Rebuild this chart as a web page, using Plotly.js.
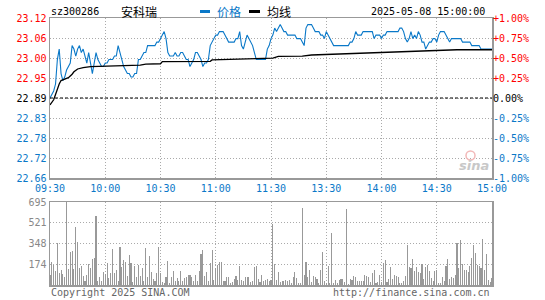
<!DOCTYPE html>
<html>
<head>
<meta charset="utf-8">
<script src="https://cdn.plot.ly/plotly-3.0.1.min.js"></script>
<style>html,body{margin:0;padding:0;background:#fff;}#chart{width:545px;height:300px;}</style>
</head>
<body>
<div id="chart"></div>
<script>
// ---------- data ----------
const stockCode = "sz300286";
const stockName = "安科瑞";
const dateTime = "2025-05-08 15:00:00";
const prevClose = 22.89;
const timeTickIdx = [0, 30, 60, 90, 120, 150, 180, 210, 240];
const timeTickLabels = ["09:30", "10:00", "10:30", "11:00", "11:30", "13:30", "14:00", "14:30", "15:00"];
const pctSteps = [-1, -0.75, -0.5, -0.25, 0, 0.25, 0.5, 0.75, 1];

const price = [
22.89,22.90,22.91,22.93,23.00,23.03,22.96,22.94,22.95,22.97,
22.98,22.99,23.04,23.03,23.01,23.03,23.04,23.02,23.03,23.01,
22.99,23.02,22.99,22.96,22.99,23.02,23.00,22.99,22.98,22.98,
22.99,22.99,23.00,23.00,23.00,23.01,23.01,23.04,23.02,23.00,
22.98,22.97,22.96,22.96,22.95,22.95,22.96,22.96,23.00,23.00,
23.01,23.02,23.02,23.04,23.04,23.04,23.04,23.04,23.05,23.05,
23.06,23.07,23.08,23.06,23.02,23.01,23.01,23.01,23.02,23.01,
23.01,23.02,23.02,23.01,23.00,23.00,22.98,22.99,23.00,23.02,
23.02,23.01,23.00,22.98,22.99,22.99,23.00,23.04,23.05,23.06,
23.07,23.07,23.08,23.08,23.08,23.07,23.06,23.05,23.05,23.05,
23.05,23.06,23.06,23.08,23.04,23.03,23.05,23.07,23.06,23.05,
23.04,23.02,23.00,23.00,23.00,23.00,23.00,23.00,23.03,23.04,
23.06,23.07,23.09,23.08,23.09,23.10,23.09,23.08,23.08,23.07,
23.07,23.07,23.07,23.07,23.06,23.06,23.06,23.05,23.04,23.09,
23.10,23.10,23.10,23.09,23.08,23.08,23.08,23.07,23.07,23.06,
23.08,23.07,23.06,23.05,23.04,23.04,23.04,23.04,23.04,23.04,
23.04,23.04,23.04,23.05,23.05,23.06,23.08,23.07,23.07,23.07,
23.08,23.08,23.08,23.08,23.08,23.08,23.06,23.07,23.07,23.07,
23.06,23.07,23.07,23.08,23.08,23.08,23.08,23.08,23.08,23.08,
23.09,23.09,23.08,23.06,23.05,23.06,23.08,23.06,23.07,23.06,
23.08,23.07,23.05,23.05,23.03,23.04,23.05,23.05,23.06,23.06,
23.05,23.07,23.08,23.08,23.08,23.07,23.06,23.05,23.06,23.06,
23.06,23.06,23.06,23.06,23.05,23.05,23.05,23.05,23.05,23.04,
23.04,23.04,23.04,23.04,23.03,23.03,23.03,23.03,23.03,23.03,
23.03
];

const avgIdx = [0, 2, 3, 4, 5, 6, 8, 10, 12, 13, 15, 18, 22, 30, 40, 46, 47, 49, 52, 60, 61, 87, 88, 102, 121, 124, 137, 142, 152, 160, 175, 188, 201, 221, 240];
const avgPrice = [22.870, 22.885, 22.900, 22.918, 22.930, 22.940, 22.944, 22.948, 22.958, 22.965, 22.973, 22.977, 22.980, 22.981, 22.983, 22.984, 22.982, 22.984, 22.987, 22.988, 22.994, 22.995, 22.999, 23.001, 23.004, 23.009, 23.010, 23.013, 23.015, 23.016, 23.020, 23.023, 23.026, 23.028, 23.028];

const volume = [
87,193,170,120,352,100,128,92,67,695,
134,276,287,134,486,360,142,159,73,36,
87,176,142,218,226,578,36,67,33,106,
95,184,59,100,301,100,126,36,318,151,
209,190,75,251,184,25,159,67,170,75,
142,33,310,67,243,109,50,31,98,315,
100,22,17,67,201,17,67,120,31,56,
31,117,31,59,70,81,84,70,31,81,
31,120,260,296,73,109,31,184,296,39,
142,170,190,193,36,36,67,67,17,25,
50,75,45,159,39,31,67,67,67,25,
36,148,156,53,28,84,36,42,50,31,
45,511,176,45,109,25,36,36,45,31,
42,17,64,109,59,17,17,645,81,193,
67,126,25,78,64,53,17,126,276,31,
20,156,17,435,17,45,17,39,47,53,
25,636,8,50,42,78,70,31,36,36,
36,81,75,67,25,98,126,17,25,81,
25,181,209,25,50,151,50,81,75,67,
17,17,31,73,335,151,142,218,120,151,
109,100,176,50,151,165,120,59,36,114,
126,20,17,67,36,156,218,50,67,59,
81,352,142,377,176,126,126,109,162,226,
335,268,170,156,142,385,126,260,40,25,
60
];

// ---------- derived ----------
const minutes = price.map((_, i) => i);
const yTickVals = pctSteps.map(p => prevClose * (1 + p / 100));
const yRange = [prevClose * 0.99, prevClose * 1.01];
const BLUE = "#0a78c8", RED = "#ff0000", GRAY = "#999999";
function colorFor(p) { return p > 0 ? RED : (p < 0 ? BLUE : "#000000"); }
const leftText = pctSteps.map((p, k) => '<span style="color:' + colorFor(p) + '">' + yTickVals[k].toFixed(2) + '</span>');
const rightText = pctSteps.map(p => '<span style="color:' + colorFor(p) + '">' + (p > 0 ? "+" : "") + p.toFixed(2) + '%</span>');
const volMax = Math.max(...volume);
const volTicks = [1, 2, 3, 4].map(k => Math.round(volMax * k / 4));

// ---------- geometry helpers (page pixels -> paper) ----------
const W = 545, H = 300, L = 50, R = 53, T = 18, B = 15;
const PW = W - L - R, PH = H - T - B;
const px = x => (x - L) / PW;
const py = y => (H - B - y) / PH;

const MONO = "DejaVu Sans Mono, Liberation Mono, monospace";
const CJK = "Noto Sans CJK SC, sans-serif";

const traces = [
  { x: minutes, y: price, type: "scatter", mode: "lines", xaxis: "x", yaxis: "y",
    line: { color: BLUE, width: 1.1 }, hoverinfo: "skip" },
  { x: avgIdx, y: avgPrice, type: "scatter", mode: "lines", xaxis: "x", yaxis: "y",
    line: { color: "#000000", width: 1.3 }, hoverinfo: "skip" },
  { x: minutes, y: yTickVals.map(() => null).concat([]), type: "scatter", mode: "lines", xaxis: "x", yaxis: "y3", hoverinfo: "skip", showlegend: false },
  { x: minutes, y: volume, type: "bar", xaxis: "x2", yaxis: "y2",
    marker: { color: GRAY, line: { width: 0 } }, width: 0.6, hoverinfo: "skip" }
];

const gridCommon = { showgrid: true, gridcolor: "#aaaaaa", gridwidth: 1, griddash: "1px,2px", zeroline: false,
  showline: true, mirror: true, linecolor: "#999999", linewidth: 1.5, ticks: "" };

const layout = {
  width: W, height: H, margin: { l: L, r: R, t: T, b: B }, showlegend: false,
  paper_bgcolor: "#ffffff", plot_bgcolor: "#ffffff", bargap: 0,
  xaxis: Object.assign({}, gridCommon, { domain: [0, 1], anchor: "y", range: [0, 240],
    tickmode: "array", tickvals: timeTickIdx, ticktext: timeTickLabels,
    tickfont: { family: MONO, size: 10, color: BLUE } }),
  xaxis2: Object.assign({}, gridCommon, { domain: [0, 1], anchor: "y2", range: [0, 240],
    tickmode: "array", tickvals: timeTickIdx, showticklabels: false }),
  yaxis: Object.assign({}, gridCommon, { domain: [py(178), 1], anchor: "x", range: yRange,
    tickmode: "array", tickvals: yTickVals, ticktext: leftText,
    tickfont: { family: MONO, size: 10, color: "#000" } }),
  yaxis3: { overlaying: "y", side: "right", anchor: "x", range: yRange, showgrid: false, zeroline: false,
    showline: false, tickmode: "array", tickvals: yTickVals, ticktext: rightText, ticks: "",
    tickfont: { family: MONO, size: 10, color: "#000" } },
  yaxis2: Object.assign({}, gridCommon, { domain: [0, py(202)], anchor: "x2", range: [0, volMax],
    tickmode: "array", tickvals: volTicks, ticktext: volTicks.map(String),
    tickfont: { family: MONO, size: 10, color: "#888888" } }),
  shapes: [
    { type: "line", xref: "x", yref: "y", x0: 0, x1: 240, y0: prevClose, y1: prevClose,
      line: { color: "#000000", width: 1, dash: "3px,2px" } },
    { type: "line", xref: "paper", yref: "paper", x0: px(200), x1: px(210), y0: py(11.5), y1: py(11.5),
      line: { color: BLUE, width: 3 } },
    { type: "line", xref: "paper", yref: "paper", x0: px(249), x1: px(260), y0: py(11.5), y1: py(11.5),
      line: { color: "#000000", width: 3 } },
    { type: "circle", xref: "paper", yref: "paper", x0: px(466), x1: px(475), y0: py(160), y1: py(151),
      line: { color: "#f2b8b8", width: 1.5 } }
  ],
  annotations: [
    { text: stockCode, xref: "paper", yref: "paper", x: px(49), y: py(11.5), xanchor: "left", yanchor: "middle",
      showarrow: false, font: { family: MONO, size: 10, color: "#000" } },
    { text: stockName, xref: "paper", yref: "paper", x: px(119), y: py(11.5), xanchor: "left", yanchor: "middle",
      showarrow: false, font: { family: CJK, size: 12, color: "#000" } },
    { text: "价格", xref: "paper", yref: "paper", x: px(215), y: py(11.5), xanchor: "left", yanchor: "middle",
      showarrow: false, font: { family: CJK, size: 12, color: BLUE } },
    { text: "均线", xref: "paper", yref: "paper", x: px(265), y: py(11.5), xanchor: "left", yanchor: "middle",
      showarrow: false, font: { family: CJK, size: 12, color: "#000" } },
    { text: dateTime, xref: "paper", yref: "paper", x: px(487), y: py(11.5), xanchor: "right", yanchor: "middle",
      showarrow: false, font: { family: MONO, size: 10, color: "#000" } },
    { text: "Copyright 2025 SINA.COM", xref: "paper", yref: "paper", x: px(49), y: py(292.5), xanchor: "left", yanchor: "middle",
      showarrow: false, font: { family: MONO, size: 10, color: "#666666" } },
    { text: "http://finance.sina.com.cn", xref: "paper", yref: "paper", x: px(492), y: py(292.5), xanchor: "right", yanchor: "middle",
      showarrow: false, font: { family: MONO, size: 10, color: "#666666" } },
    { text: "<b><i>sina</i></b>", xref: "paper", yref: "paper", x: px(474), y: py(165), xanchor: "center", yanchor: "middle",
      showarrow: false, font: { family: "DejaVu Sans, sans-serif", size: 13, color: "#c8c8c8" } }
  ]
};

Plotly.newPlot("chart", traces, layout, { staticPlot: true, displayModeBar: false });
</script>
</body>
</html>
